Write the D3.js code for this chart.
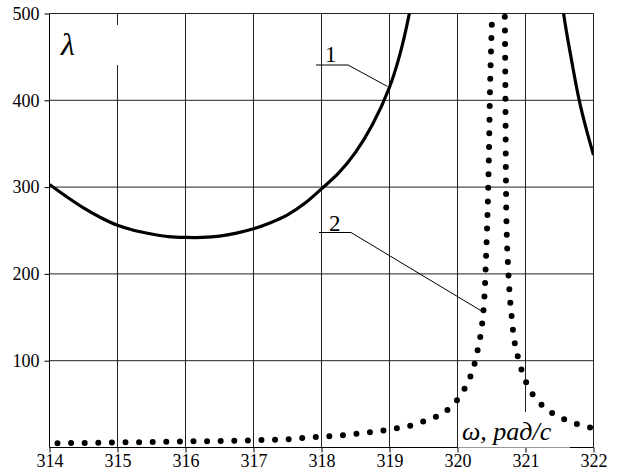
<!DOCTYPE html>
<html>
<head>
<meta charset="utf-8">
<script src="https://cdn.jsdelivr.net/npm/d3@7"></script>
<style>
  html, body { margin: 0; padding: 0; background: #fff; }
  svg { display: block; }
</style>
</head>
<body>
<svg id="chart" width="622" height="471"></svg>
<script>
// Curve 1, left branch (ω, λ)
const omegaA  = [314.0, 314.25, 314.5, 314.75, 315.0, 315.25, 315.5, 315.75, 316.0, 316.25, 316.5, 316.75, 317.0, 317.25, 317.5, 317.75, 318.0, 318.25, 318.5, 318.75, 319.0, 319.15, 319.3, 319.45];
const lambdaA = [303, 289, 276, 265, 256, 250, 246, 243, 242, 242, 243.5, 247, 252, 259, 268, 281, 298, 316, 340, 372, 415, 452, 503, 570];
// Curve 1, right branch
const omegaB  = [321.45, 321.56, 321.68, 321.79, 321.9, 322.0];
const lambdaB = [575, 500, 445, 400, 365, 337];
// Curve 2 (dotted)
const omega2  = [314.0, 314.5, 315.0, 315.5, 316.0, 316.5, 317.0, 317.5, 317.9, 318.3, 318.7, 319.1, 319.3, 319.5, 319.7, 319.9, 320.06, 320.17, 320.24, 320.29, 320.33, 320.36, 320.38, 320.4, 320.42, 320.44, 320.455, 320.465, 320.475, 320.49, 320.51, 320.55, 320.6, 320.65, 320.695, 320.705, 320.71, 320.716, 320.725, 320.74, 320.76, 320.78, 320.8, 320.82, 320.85, 320.9, 320.96, 321.04, 321.18, 321.37, 321.56, 321.76, 321.96, 322.0];
const lambda2 = [5, 5.2, 6, 6.3, 7, 7.5, 8.3, 9.5, 12, 14, 17.5, 22, 25, 30, 36, 46.5, 62, 78, 93, 110, 125, 141, 156, 180, 220, 266, 310, 350, 400, 450, 500, 600, 640, 600, 500, 400, 330, 280, 245, 215, 185, 164, 148, 132, 117, 101, 85, 70, 54, 41, 33, 27, 23, 22.5];

const xTicks = [314, 315, 316, 317, 318, 319, 320, 321, 322];
const yTicks = [100, 200, 300, 400, 500];

const serif = "Liberation Serif";
const svg = d3.select("#chart");
const plotLeft = 49.5, plotRight = 593.5, plotTop = 13.5, plotBottom = 447.5;

const x = d3.scaleLinear().domain([314, 322]).range([plotLeft, plotRight]);
const y = d3.scaleLinear().domain([0, 500]).range([plotBottom, plotTop]);

svg.append("defs").append("clipPath").attr("id", "plotClip")
  .append("rect").attr("x", plotLeft).attr("y", plotTop)
  .attr("width", plotRight - plotLeft).attr("height", plotBottom - plotTop);

// grid
const grid = svg.append("g").attr("stroke", "#222").attr("stroke-width", 1);
grid.selectAll("line.v").data(xTicks.slice(1, -1)).join("line").attr("class", "v")
  .attr("x1", d => x(d)).attr("x2", d => x(d)).attr("y1", plotTop).attr("y2", plotBottom);
grid.selectAll("line.h").data(yTicks.slice(0, -1)).join("line").attr("class", "h")
  .attr("x1", plotLeft).attr("x2", plotRight).attr("y1", d => y(d)).attr("y2", d => y(d));
// top and right frame
grid.append("line").attr("x1", plotLeft).attr("x2", plotRight).attr("y1", plotTop).attr("y2", plotTop);
grid.append("line").attr("x1", plotRight).attr("x2", plotRight).attr("y1", plotTop).attr("y2", plotBottom);

// white panels behind the axis titles
svg.append("rect").attr("x", 56).attr("y", 25).attr("width", 68).attr("height", 40).attr("fill", "#fff");
svg.append("rect").attr("x", 458).attr("y", 412).attr("width", 112).attr("height", 35).attr("fill", "#fff");

// axes
const xAxis = d3.axisBottom(x).tickValues(xTicks).tickSize(5).tickPadding(2).tickFormat(d3.format("d"));
const yAxis = d3.axisLeft(y).tickValues(yTicks).tickSize(5).tickPadding(5).tickFormat(d3.format("d"));
const gx = svg.append("g").attr("transform", `translate(0,${plotBottom})`).call(xAxis);
const gy = svg.append("g").attr("transform", `translate(${plotLeft},0)`).call(yAxis);
[gx, gy].forEach(g => {
  g.attr("font-family", serif).attr("font-size", 18);
  g.select(".domain").attr("stroke", "#000");
  g.selectAll(".tick line").attr("stroke", "#000");
  g.selectAll(".tick text").style("font-family", serif).attr("font-size", 18).attr("fill", "#000");
});
gy.select(".domain").attr("d", `M0,${plotTop}V${plotBottom}`);
gx.select(".domain").attr("d", `M${plotLeft},0H${plotRight}`);
// lighter stretch of the baseline under the ω title panel
svg.append("line").attr("x1", 458).attr("x2", 570).attr("y1", plotBottom).attr("y2", plotBottom)
  .attr("stroke", "#999").attr("stroke-width", 1);

// curves
const plot = svg.append("g").attr("clip-path", "url(#plotClip)");
const line = d3.line().x(d => x(d[0])).y(d => y(d[1])).curve(d3.curveCatmullRom.alpha(0.5));

plot.append("path").datum(d3.zip(omegaA, lambdaA)).attr("d", line)
  .attr("fill", "none").attr("stroke", "#000").attr("stroke-width", 3.2);
plot.append("path").datum(d3.zip(omegaB, lambdaB)).attr("d", line)
  .attr("fill", "none").attr("stroke", "#000").attr("stroke-width", 3.2);
plot.append("path").datum(d3.zip(omega2, lambda2)).attr("d", line.curve(d3.curveMonotoneX))
  .attr("fill", "none").attr("stroke", "#000").attr("stroke-width", 6)
  .attr("stroke-linecap", "round").attr("stroke-dasharray", "0 13.6").attr("stroke-dashoffset", 5.6);

// curve labels with leaders
const lead = svg.append("g").attr("fill", "none").attr("stroke", "#000").attr("stroke-width", 1);
lead.append("path").attr("d", `M316,65H348L${x(318.97)},${y(416)}`);
lead.append("path").attr("d", `M319,232.5H351L${x(320.38)},${y(156)}`);
svg.append("text").attr("x", 325).attr("y", 62).style("font-family", serif).attr("font-size", 23).text("1");
svg.append("text").attr("x", 329).attr("y", 231).style("font-family", serif).attr("font-size", 23).text("2");

// axis titles
svg.append("text").attr("x", 61).attr("y", 55).style("font-family", serif).attr("font-size", 32).attr("font-style", "italic").text("λ");
svg.append("text").attr("x", 462).attr("y", 440).style("font-family", serif).attr("font-size", 26).attr("font-style", "italic").text("ω, рад/с");
</script>
</body>
</html>
